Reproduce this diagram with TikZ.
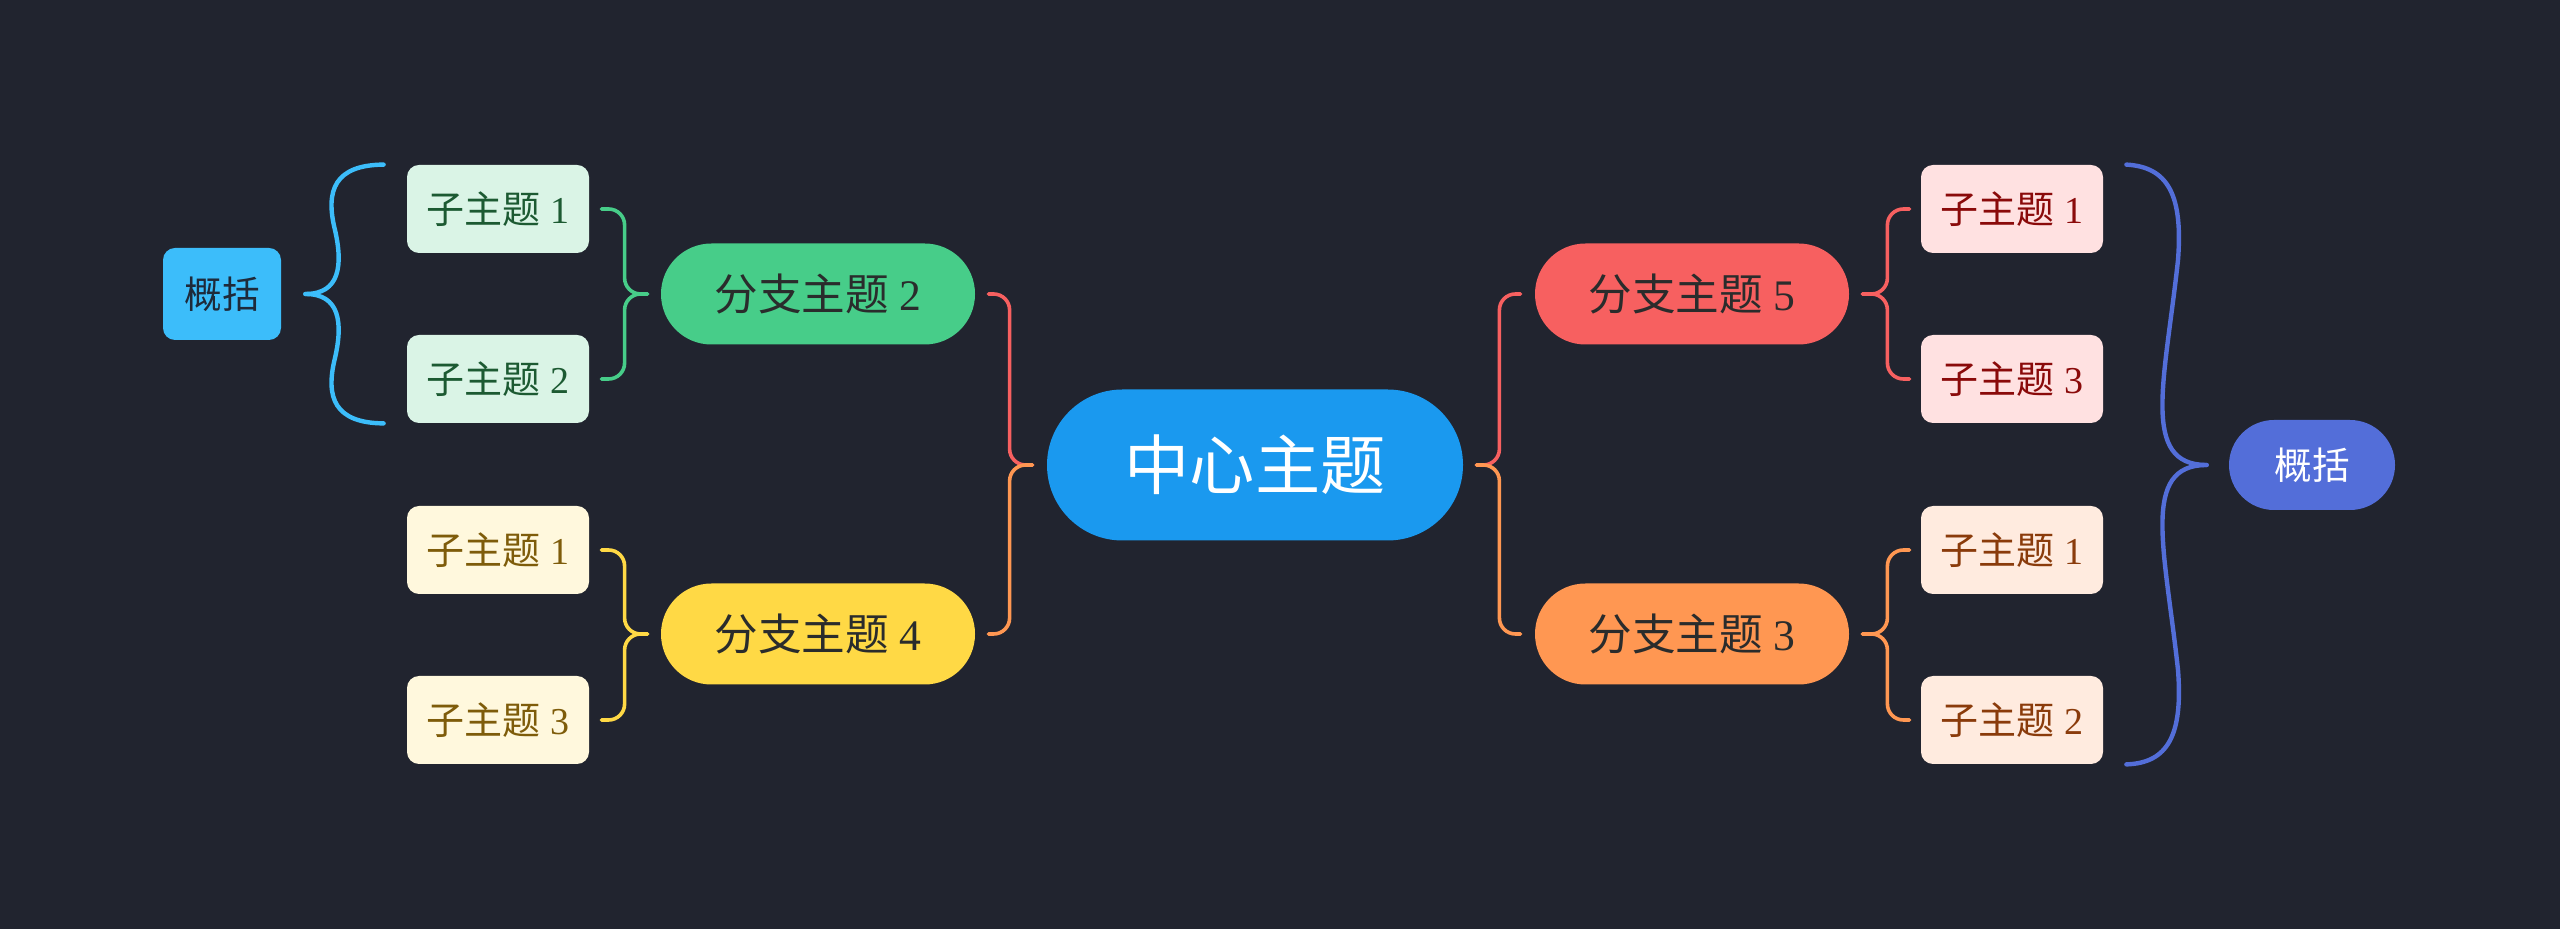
\documentclass[tikz,border=0pt]{standalone}
\usepackage{fontspec}
\setmainfont{Liberation Serif}
\newfontfamily\cjk{Noto Sans CJK SC}
\definecolor{bgc}{HTML}{21242F}
\definecolor{cblue}{HTML}{1A99EF}
\definecolor{gbr}{HTML}{47CD89}
\definecolor{ybr}{HTML}{FFD945}
\definecolor{rbr}{HTML}{F76060}
\definecolor{obr}{HTML}{FF9752}
\definecolor{gch}{HTML}{DAF4E6}
\definecolor{ych}{HTML}{FFF8DD}
\definecolor{rch}{HTML}{FFE1E1}
\definecolor{och}{HTML}{FFEBDF}
\definecolor{gtx}{HTML}{1C5A32}
\definecolor{ytx}{HTML}{7E5C0A}
\definecolor{rtx}{HTML}{8A0A0A}
\definecolor{otx}{HTML}{8A3B0B}
\definecolor{btx}{HTML}{2A2C2C}
\definecolor{lsum}{HTML}{3CBDFA}
\definecolor{rsum}{HTML}{536ED9}
\definecolor{lsumtx}{HTML}{1E2A3A}
\begin{document}
\begin{tikzpicture}[x=0.5pt,y=-0.5pt,
  central/.style={fill=cblue, rounded corners=37.7pt, minimum width=208pt, minimum height=75.5pt, inner sep=0pt, text=white, font=\cjk\fontsize{32.6}{36}\selectfont},
  branch/.style={rounded corners=25.2pt, minimum width=157pt, minimum height=50.5pt, inner sep=0pt, text=btx, font=\fontsize{21.8}{24}\selectfont},
  child/.style={rounded corners=6pt, minimum width=91pt, minimum height=44pt, inner sep=0pt, font=\fontsize{19}{22}\selectfont},
  conn/.style={line width=1.8pt, rounded corners=8pt, line cap=round},
  sumbrace/.style={line width=2.2pt, line cap=round}
]
\useasboundingbox (0,0) rectangle (2560,929);
\fill[bgc] (0,0) rectangle (2560,929);

% central
\node[central] (c) at (1255,465) {中心主题};

% branches
\node[branch, fill=gbr] (b2) at (818,294) {{\cjk 分支主题} 2};
\node[branch, fill=ybr] (b4) at (818,634) {{\cjk 分支主题} 4};
\node[branch, fill=rbr] (b5) at (1692,294) {{\cjk 分支主题} 5};
\node[branch, fill=obr] (b3) at (1692,634) {{\cjk 分支主题} 3};

% children left
\node[child, fill=gch, text=gtx] (l21) at (498,209) {{\cjk 子主题} 1};
\node[child, fill=gch, text=gtx] (l22) at (498,379) {{\cjk 子主题} 2};
\node[child, fill=ych, text=ytx] (l41) at (498,550) {{\cjk 子主题} 1};
\node[child, fill=ych, text=ytx] (l43) at (498,720) {{\cjk 子主题} 3};
% children right
\node[child, fill=rch, text=rtx] (r51) at (2012,209) {{\cjk 子主题} 1};
\node[child, fill=rch, text=rtx] (r53) at (2012,379) {{\cjk 子主题} 3};
\node[child, fill=och, text=otx] (r31) at (2012,550) {{\cjk 子主题} 1};
\node[child, fill=och, text=otx] (r32) at (2012,720) {{\cjk 子主题} 2};

% summaries
\node[fill=lsum, rounded corners=6pt, minimum width=59pt, minimum height=46pt, inner sep=0pt, text=lsumtx, font=\cjk\fontsize{18.8}{22}\selectfont] (ls) at (222,294) {概括};
\node[fill=rsum, rounded corners=22.5pt, minimum width=83pt, minimum height=45pt, inner sep=0pt, text=white, font=\cjk\fontsize{18.8}{22}\selectfont] (rs) at (2312,465) {概括};

% central connectors
\draw[conn, rbr] ([xshift=-7pt]c.west) -- ++(-11.5pt,0) |- ([xshift=6.5pt]b2.east);
\draw[conn, obr] ([xshift=-7pt]c.west) -- ++(-11.5pt,0) |- ([xshift=6.5pt]b4.east);
\draw[conn, rbr] ([xshift=6.5pt]c.east) -- ++(11.5pt,0) |- ([xshift=-7pt]b5.west);
\draw[conn, obr] ([xshift=6.5pt]c.east) -- ++(11.5pt,0) |- ([xshift=-7pt]b3.west);

% branch to children, left
\draw[conn, gbr] ([xshift=-6.5pt]b2.west) -- ++(-11.5pt,0) |- ([xshift=6pt]l21.east);
\draw[conn, gbr] ([xshift=-6.5pt]b2.west) -- ++(-11.5pt,0) |- ([xshift=6pt]l22.east);
\draw[conn, ybr] ([xshift=-6.5pt]b4.west) -- ++(-11.5pt,0) |- ([xshift=6pt]l41.east);
\draw[conn, ybr] ([xshift=-6.5pt]b4.west) -- ++(-11.5pt,0) |- ([xshift=6pt]l43.east);
% branch to children, right
\draw[conn, rbr] ([xshift=6.5pt]b5.east) -- ++(12.5pt,0) |- ([xshift=-5.5pt]r51.west);
\draw[conn, rbr] ([xshift=6.5pt]b5.east) -- ++(12.5pt,0) |- ([xshift=-5.5pt]r53.west);
\draw[conn, obr] ([xshift=6.5pt]b3.east) -- ++(12.5pt,0) |- ([xshift=-5.5pt]r31.west);
\draw[conn, obr] ([xshift=6.5pt]b3.east) -- ++(12.5pt,0) |- ([xshift=-5.5pt]r32.west);

% left summary brace
\draw[sumbrace, lsum] ([xshift=-11.5pt]l21.north west) .. controls (335,165) and (325,190) .. (335,230)
  .. controls (343,265) and (340,294) .. ([xshift=12pt]ls.east);
\draw[sumbrace, lsum] ([xshift=-11.5pt]l22.south west) .. controls (335,423) and (325,398) .. (335,358)
  .. controls (343,323) and (340,294) .. ([xshift=12pt]ls.east);

% right summary brace
\draw[sumbrace, rsum] ([xshift=11.5pt]r51.north east) .. controls (2168,167) and (2183,195) .. (2178,260)
  .. controls (2165,380) and (2140,465) .. ([xshift=-11pt]rs.west);
\draw[sumbrace, rsum] ([xshift=11.5pt]r32.south east) .. controls (2168,763) and (2183,735) .. (2178,670)
  .. controls (2165,550) and (2140,465) .. ([xshift=-11pt]rs.west);
\end{tikzpicture}
\end{document}
